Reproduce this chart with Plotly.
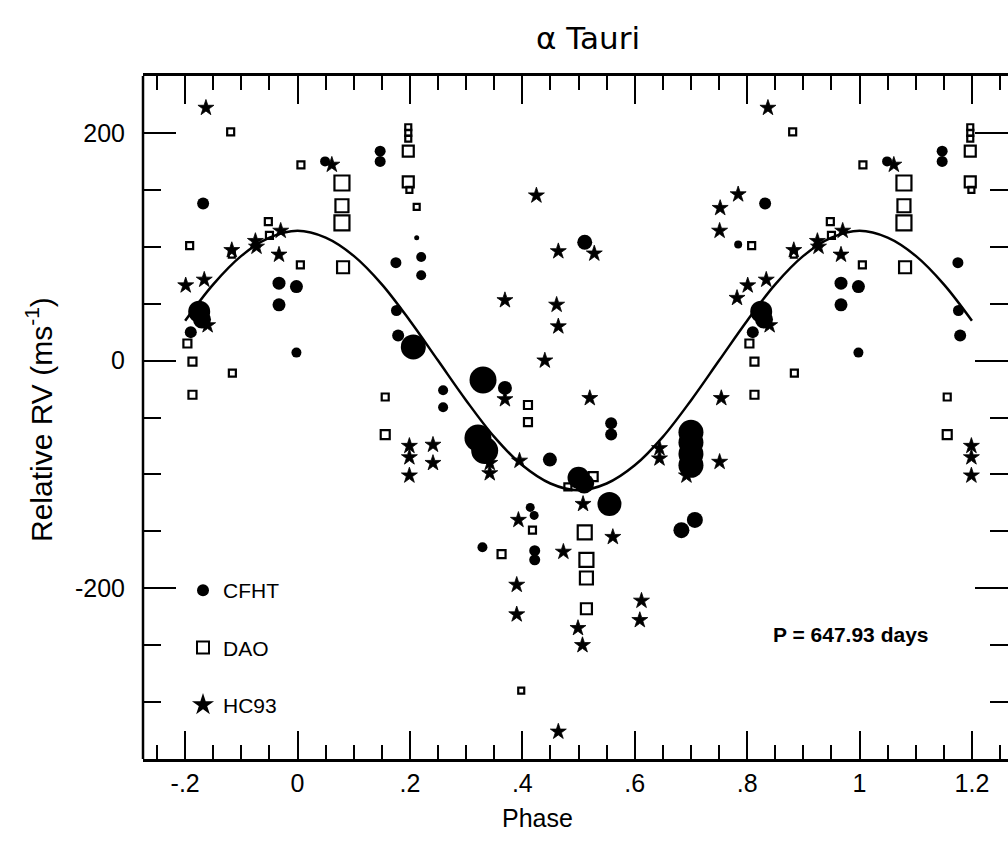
import numpy as np
import plotly.graph_objects as go

# ---- alpha Tau radial velocities, folded on P = 647.93 d (one cycle, phase 0..1) ----
cfht_phase = [0.049, 0.147, 0.147, 0.175, 0.212, 0.220, 0.220, 0.176, 0.179, 0.206,
              0.998, 0.259, 0.259, 0.330, 0.369, 0.321, 0.333, 0.449, 0.500, 0.510,
              0.555, 0.511, 0.558, 0.558, 0.700, 0.700, 0.700, 0.700, 0.683, 0.707,
              0.414, 0.421, 0.329, 0.422, 0.422, 0.832, 0.784, 0.967, 0.998, 0.967,
              0.825, 0.830, 0.810]
cfht_rv = [175, 184, 175, 86, 108, 91, 75, 44, 22, 12,
           7, -26, -41, -17, -24, -68, -79, -87, -103, -108,
           -126, 104, -55, -65, -63, -72, -82, -92, -149, -140,
           -129, -136, -164, -167, -175, 138, 102, 68, 65, 49,
           43, 36, 25]
cfht_weight = [10, 11, 11, 11, 5, 10, 10, 11, 12, 25,
               10, 10, 10, 27, 14, 27, 27, 14, 22, 20,
               24, 15, 12, 12, 25, 25, 25, 25, 16, 16,
               9, 9, 10, 11, 11, 12, 8, 13, 13, 13,
               22, 18, 12]

dao_phase = [0.006, 0.079, 0.079, 0.079, 0.081, 0.197, 0.197, 0.197, 0.197, 0.197,
             0.199, 0.212, 0.005, 0.156, 0.156, 0.410, 0.410, 0.526, 0.481, 0.418,
             0.363, 0.511, 0.514, 0.514, 0.514, 0.398, 0.948, 0.950, 0.881, 0.808,
             0.804, 0.813, 0.884, 0.813, 0.883]
dao_rv = [172, 156, 136, 121, 82, 205, 200, 195, 184, 157,
          150, 135, 84, -32, -65, -39, -54, -102, -111, -149,
          -170, -151, -175, -191, -218, -290, 122, 110, 201, 101,
          15, -1, -11, -30, 93]
dao_weight = [7, 15, 13, 15, 12, 6, 6, 6, 11, 11,
              6, 6, 7, 7, 9, 8, 8, 9, 7, 7,
              8, 14, 14, 13, 11, 6, 7, 7, 7, 7,
              8, 8, 7, 8, 6]

hc93_phase = [0.061, 0.199, 0.199, 0.199, 0.241, 0.241, 0.464, 0.461, 0.369, 0.425,
              0.464, 0.528, 0.440, 0.369, 0.520, 0.754, 0.342, 0.342, 0.395, 0.508,
              0.644, 0.644, 0.692, 0.751, 0.393, 0.473, 0.561, 0.390, 0.390, 0.499,
              0.507, 0.612, 0.609, 0.464, 0.837, 0.752, 0.784, 0.751, 0.970, 0.927,
              0.967, 0.883, 0.801, 0.834, 0.782, 0.840, 0.925]
hc93_rv = [172, -75, -85, -101, -74, -90, 30, 49, 53, 145,
           96, 94, 0, -34, -33, -33, -90, -99, -88, -126,
           -77, -86, -101, -89, -140, -168, -155, -197, -223, -235,
           -250, -211, -228, -326, 222, 134, 146, 114, 114, 100,
           93, 97, 66, 71, 55, 31, 105]

# sinusoidal orbit fit, sampled every 0.05 in phase
fit_phase = [-0.20, -0.15, -0.10, -0.05, 0.00, 0.05, 0.10, 0.15, 0.20, 0.25,
             0.30, 0.35, 0.40, 0.45, 0.50, 0.55, 0.60, 0.65, 0.70, 0.75,
             0.80, 0.85, 0.90, 0.95, 1.00, 1.05, 1.10, 1.15, 1.20]
fit_rv = [35, 67, 92, 108, 114, 108, 92, 67, 35, 0,
          -35, -67, -92, -108, -114, -108, -92, -67, -35, 0,
          35, 67, 92, 108, 114, 108, 92, 67, 35]

x_ticks = [-0.2, 0, 0.2, 0.4, 0.6, 0.8, 1.0, 1.2]
x_tick_text = ["-.2", "0", ".2", ".4", ".6", ".8", "1", "1.2"]
y_ticks = [-200, 0, 200]
y_tick_text = ["-200", "0", "200"]

period_label = "P = 647.93 days"

# the folded cycle is shown from phase -0.2 to 1.2
PHASE_MIN, PHASE_MAX = -0.2, 1.2


def repeat_cycle(phase, *cols):
    """Show each observation at phase-1, phase and phase+1 within the plotted span."""
    p = np.asarray(phase, dtype=float)
    xs = np.concatenate([p - 1, p, p + 1])
    keep = (xs >= PHASE_MIN - 1e-9) & (xs <= PHASE_MAX + 1e-9)
    out = [xs[keep]]
    for c in cols:
        out.append(np.tile(np.asarray(c, dtype=float), 3)[keep])
    return out


W, H = 1008, 846
ML, MR, MT, MB = 143, 0, 76, 87
PX_PER_PHASE = 562.0
X0 = -0.275
X1 = X0 + (W - ML - MR) / PX_PER_PHASE

FONT = "Liberation Sans, Arial, Helvetica, sans-serif"

fig = go.Figure()

fig.add_trace(go.Scatter(
    x=fit_phase, y=fit_rv, mode="lines", line=dict(color="black", width=2.5, shape="spline"),
    showlegend=False, hoverinfo="skip"))

cx, cy, cs = repeat_cycle(cfht_phase, cfht_rv, cfht_weight)
fig.add_trace(go.Scatter(
    x=cx, y=cy, mode="markers", name="CFHT", legendgroup="a",
    marker=dict(symbol="circle", color="black", size=cs, opacity=1, line=dict(width=0))))

dx, dy, ds = repeat_cycle(dao_phase, dao_rv, dao_weight)
fig.add_trace(go.Scatter(
    x=dx, y=dy, mode="markers", name="DAO", legendgroup="b",
    marker=dict(symbol="square-open", color="black", size=ds, opacity=1,
                line=dict(width=2.2, color="black"))))

hx, hy = repeat_cycle(hc93_phase, hc93_rv)
fig.add_trace(go.Scatter(
    x=hx, y=hy, mode="markers", name="HC93", legendgroup="c",
    marker=dict(symbol="star", color="black", size=12, opacity=1,
                line=dict(width=0.8, color="black"))))

axis_common = dict(
    showgrid=False, zeroline=False, ticks="inside", tickcolor="black", tickwidth=2,
    linecolor="black", linewidth=2.5,
    tickfont=dict(family=FONT, size=25, color="black"),
)

fig.update_xaxes(
    **axis_common, range=[X0, X1], showline=True, mirror="ticks",
    tickmode="array", tickvals=x_ticks, ticktext=x_tick_text, ticklen=28,
    minor=dict(tickmode="linear", tick0=0, dtick=0.05, ticklen=14, tickwidth=2,
               tickcolor="black", ticks="inside"),
    ticklabelstandoff=0,
)
fig.update_yaxes(
    **axis_common, range=[-350, 250], showline=False, mirror="ticks",
    tickmode="array", tickvals=y_ticks, ticktext=y_tick_text, ticklen=33,
    minor=dict(tickmode="linear", tick0=0, dtick=50, ticklen=18, tickwidth=2,
               tickcolor="black", ticks="inside"),
    ticklabelstandoff=17,
)

# left frame edge (right edge of the box lies beyond the page)
fig.add_shape(type="line", xref="paper", yref="paper", x0=0, x1=0, y0=0, y1=1,
              line=dict(color="black", width=2.5))

pw = W - ML - MR
ph = H - MT - MB
fig.add_annotation(text="Relative RV (ms<sup>-1</sup>)", xref="paper", yref="paper",
                   x=0, y=(H - MB - 420) / ph, xshift=39 - ML, xanchor="center", yanchor="middle",
                   textangle=-90, showarrow=False,
                   font=dict(family=FONT, size=30, color="black"))
fig.add_annotation(text="Phase", xref="paper", yref="paper", x=(537 - ML) / pw, y=0,
                   yshift=-(818 - (H - MB)), xanchor="center", yanchor="middle", showarrow=False,
                   font=dict(family=FONT, size=25, color="black"))
fig.add_annotation(text="\u03b1 Tauri", xref="paper", yref="paper", x=(588 - ML) / pw, y=1,
                   yshift=MT - 38, xanchor="center", yanchor="middle", showarrow=False,
                   font=dict(family="DejaVu Sans, sans-serif", size=31, color="black"))
fig.add_annotation(text="<b>" + period_label + "</b>", xref="x", yref="y", x=0.985, y=-241,
                   showarrow=False, font=dict(family=FONT, size=21, color="black"))

fig.update_layout(
    width=W, height=H, margin=dict(l=ML, r=MR, t=MT, b=MB),
    paper_bgcolor="white", plot_bgcolor="white",
    legend=dict(x=(183 - ML) / pw, y=(759 - 570) / ph, xanchor="left", yanchor="top",
                bgcolor="rgba(0,0,0,0)", traceorder="grouped", tracegroupgap=27,
                font=dict(family=FONT, size=21, color="black"), itemsizing="constant"),
    showlegend=True,
)

fig.write_html("out.html")
